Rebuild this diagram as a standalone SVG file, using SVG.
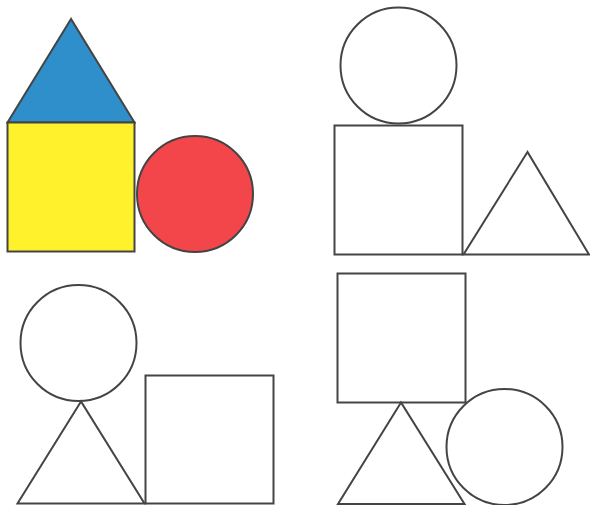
<svg xmlns="http://www.w3.org/2000/svg" width="590" height="505" viewBox="0 0 590 505">
<style>
.s{fill:none;stroke:#444444;stroke-width:2;stroke-linejoin:miter}
</style>
<rect width="590" height="505" fill="#ffffff"/>
<g id="panel1">
<polygon class="s" points="71,19 7.5,122.5 134.5,122.5" style="fill:#2E8FCA"/>
<rect class="s" x="7.5" y="122.5" width="127" height="129" style="fill:#FFF12B"/>
<circle class="s" cx="195" cy="194" r="58" style="fill:#F2464A"/>
</g>
<g id="panel2">
<circle class="s" cx="398.5" cy="65.5" r="58"/>
<rect class="s" x="334.5" y="125.5" width="128" height="129"/>
<polygon class="s" points="527.5,152 463.5,254.5 589,254.5"/>
</g>
<g id="panel3">
<circle class="s" cx="78.5" cy="343" r="58"/>
<polygon class="s" points="81,401.5 17.5,503.5 144.5,503.5"/>
<rect class="s" x="145.5" y="375.5" width="128" height="128"/>
</g>
<g id="panel4">
<rect class="s" x="337.5" y="273.5" width="128" height="129"/>
<polygon class="s" points="401,402.5 338,504 464.5,504"/>
<circle class="s" cx="504.5" cy="447" r="58"/>
</g>
</svg>
